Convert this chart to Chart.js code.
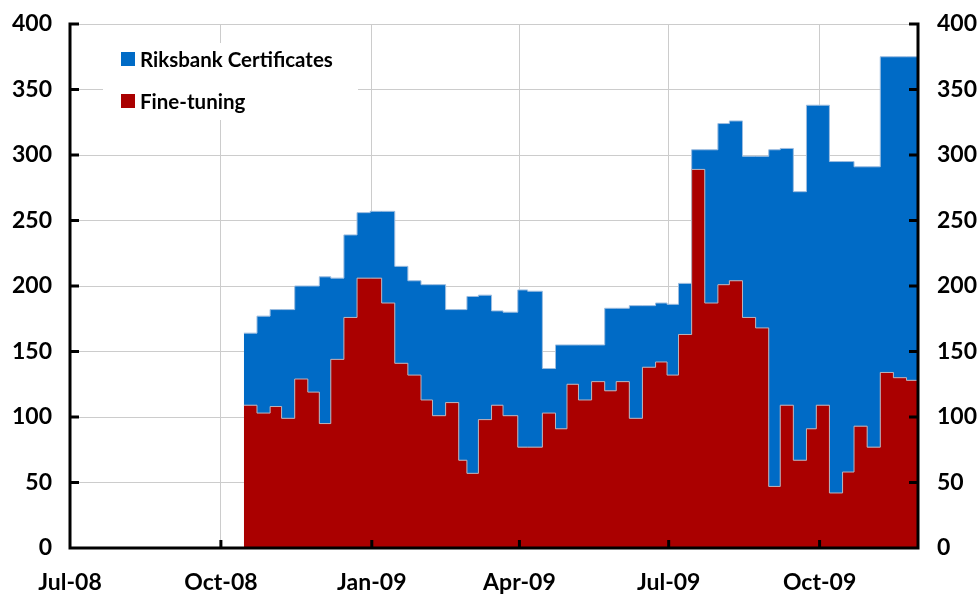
<!DOCTYPE html>
<html>
<head>
<meta charset="utf-8">
<title>Riksbank Certificates and Fine-tuning</title>
<script src="https://cdn.jsdelivr.net/npm/chart.js@4/dist/chart.umd.min.js"></script>
<style>
  body { margin: 0; background: #fff; }
  #c { display: block; }
</style>
</head>
<body>
<canvas id="c" width="978" height="596"></canvas>
<script>
// start of each weekly step (approx), SEK billion
var stepDates = [
    '2008-10-15', '2008-10-23', '2008-10-31', '2008-11-07', '2008-11-15', '2008-11-23', '2008-11-30',
    '2008-12-07', '2008-12-15', '2008-12-23', '2008-12-31', '2009-01-07', '2009-01-15', '2009-01-23',
    '2009-01-31', '2009-02-07', '2009-02-15', '2009-02-23', '2009-02-28', '2009-03-07', '2009-03-15',
    '2009-03-22', '2009-03-31', '2009-04-06', '2009-04-15', '2009-04-23', '2009-04-30', '2009-05-07',
    '2009-05-15', '2009-05-23', '2009-05-30', '2009-06-07', '2009-06-15', '2009-06-23', '2009-06-30',
    '2009-07-07', '2009-07-15', '2009-07-23', '2009-07-31', '2009-08-07', '2009-08-15', '2009-08-23',
    '2009-08-31', '2009-09-07', '2009-09-15', '2009-09-23', '2009-09-29', '2009-10-07', '2009-10-15',
    '2009-10-22', '2009-10-30', '2009-11-07', '2009-11-15', '2009-11-23'
];
var lastDate = '2009-11-30';

var fineTuning = [
    109, 103, 108, 99, 129, 119, 95, 144, 176, 206, 206, 187, 141, 132,
    113, 101, 111, 67, 57, 98, 109, 101, 77, 77, 103, 91, 125, 113,
    127, 120, 127, 99, 138, 142, 132, 163, 289, 187, 201, 204, 176, 168,
    47, 109, 67, 91, 109, 42, 58, 93, 77, 134, 130, 128
];
var certificates = [
    55, 74, 74, 83, 71, 81, 112, 62, 63, 50, 51, 70, 74, 72,
    88, 100, 71, 115, 135, 95, 72, 79, 120, 119, 34, 64, 30, 42,
    28, 63, 56, 86, 47, 45, 54, 39, 15, 117, 123, 122, 123, 131,
    257, 196, 205, 247, 229, 253, 237, 198, 214, 241, 245, 247
];

var tickDates = ['2008-07-01', '2008-10-01', '2009-01-01', '2009-04-01', '2009-07-01', '2009-10-01'];
var tickLabels = ['Jul-08', 'Oct-08', 'Jan-09', 'Apr-09', 'Jul-09', 'Oct-09'];

var origin = Date.UTC(2008, 6, 1);
function dayOf(s) {
    var p = s.split('-');
    return Math.round((Date.UTC(+p[0], +p[1] - 1, +p[2]) - origin) / 86400000);
}
function toPoints(vals) {
    var pts = stepDates.map(function (d, i) { return { x: dayOf(d), y: vals[i] }; });
    pts.push({ x: dayOf(lastDate), y: vals[vals.length - 1] });
    return pts;
}

var tickDays = tickDates.map(dayOf);
var FONT = 'Lato, "DejaVu Sans", sans-serif';

// white box legend inside the plot
var boxLegend = {
    id: 'boxLegend',
    afterDatasetsDraw: function (chart, args, opts) {
        var ctx = chart.ctx;
        ctx.save();
        ctx.fillStyle = '#fff';
        ctx.fillRect(opts.left, opts.top, opts.width, opts.height);
        var ds = chart.data.datasets.slice().reverse();
        ctx.font = 'bold 20.5px ' + FONT;
        ctx.textBaseline = 'middle';
        ds.forEach(function (d, i) {
            var y = opts.top + opts.firstRow + i * opts.rowGap;
            ctx.fillStyle = d.backgroundColor;
            ctx.fillRect(opts.left + 18, y - 7, 14, 14);
            ctx.fillStyle = '#000';
            ctx.fillText(d.label, opts.left + 37, y + 1);
        });
        ctx.restore();
    }
};

// black axis lines with inward ticks
var axisLines = {
    id: 'axisLines',
    afterDatasetsDraw: function (chart) {
        var ctx = chart.ctx, a = chart.chartArea;
        var xs = chart.scales.x, ys = chart.scales.y;
        ctx.save();
        ctx.strokeStyle = '#000';
        ctx.lineWidth = 3;
        ctx.lineCap = 'butt';
        ctx.beginPath();
        ctx.moveTo(a.left, a.top - 1.5);
        ctx.lineTo(a.left, a.bottom);
        ctx.lineTo(a.right, a.bottom);
        ctx.lineTo(a.right, a.top - 1.5);
        ys.ticks.forEach(function (t) {
            var y = ys.getPixelForValue(t.value);
            ctx.moveTo(a.left, y); ctx.lineTo(a.left + 9, y);
            ctx.moveTo(a.right, y); ctx.lineTo(a.right - 9, y);
        });
        xs.ticks.forEach(function (t) {
            var x = xs.getPixelForValue(t.value);
            ctx.moveTo(x, a.bottom); ctx.lineTo(x, a.bottom - 8);
        });
        ctx.stroke();
        ctx.restore();
    }
};

function fixWidth(w) {
    return function (s) {
        s.width = w;
        s.paddingTop = 0;
        s.paddingBottom = 0;
    };
}

var ctx = document.getElementById('c').getContext('2d');
var chart = new Chart(ctx, {
    type: 'line',
    data: {
        datasets: [
            {
                label: 'Fine-tuning',
                data: toPoints(fineTuning),
                backgroundColor: '#aa0000',
                borderColor: '#b9b3bd',
                borderWidth: 1,
                stepped: true,
                pointRadius: 0,
                fill: 'origin'
            },
            {
                label: 'Riksbank Certificates',
                data: toPoints(certificates),
                backgroundColor: '#006bc6',
                borderColor: '#9cbde0',
                borderWidth: 1,
                stepped: true,
                pointRadius: 0,
                fill: '-1'
            }
        ]
    },
    options: {
        responsive: false,
        animation: false,
        layout: { padding: { top: 24, right: 0, bottom: 0, left: 0 } },
        plugins: {
            legend: { display: false },
            tooltip: { enabled: false },
            boxLegend: { left: 103, top: 43, width: 255, height: 77, firstRow: 16, rowGap: 42 }
        },
        scales: {
            x: {
                type: 'linear',
                min: 0,
                max: dayOf(lastDate),
                afterBuildTicks: function (s) {
                    s.ticks = tickDays.map(function (v) { return { value: v }; });
                },
                afterFit: function (s) { s.height = 48; s.paddingLeft = 0; s.paddingRight = 0; },
                ticks: {
                    autoSkip: false,
                    maxRotation: 0,
                    padding: 21,
                    color: '#000',
                    font: { family: FONT, size: 23, weight: 'bold' },
                    callback: function (v) {
                        var i = tickDays.indexOf(v);
                        return i >= 0 ? tickLabels[i] : '';
                    }
                },
                grid: { color: '#cccccc', lineWidth: 1, drawTicks: false },
                border: { display: false }
            },
            y: {
                position: 'left',
                stacked: true,
                min: 0,
                max: 400,
                afterFit: fixWidth(70),
                ticks: {
                    stepSize: 50,
                    padding: 18,
                    color: '#000',
                    font: { family: FONT, size: 23, weight: 'bold' }
                },
                grid: { color: '#cccccc', lineWidth: 1, drawTicks: false },
                border: { display: false }
            },
            y2: {
                position: 'right',
                min: 0,
                max: 400,
                afterFit: fixWidth(60),
                ticks: {
                    stepSize: 50,
                    padding: 19,
                    color: '#000',
                    font: { family: FONT, size: 23, weight: 'bold' }
                },
                grid: { display: false, drawTicks: false },
                border: { display: false }
            }
        }
    },
    plugins: [boxLegend, axisLines]
});
</script>
</body>
</html>
